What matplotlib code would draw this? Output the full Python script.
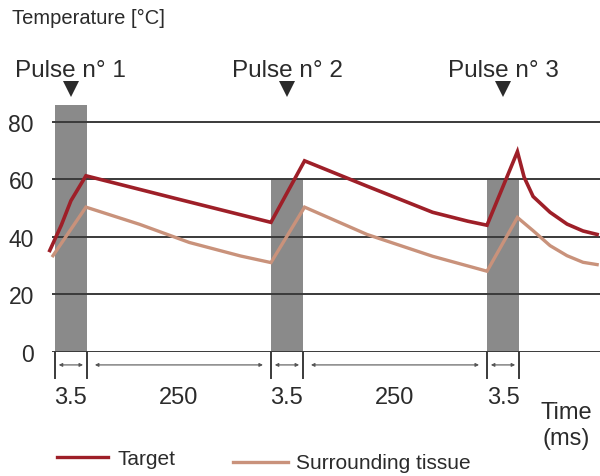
import matplotlib
matplotlib.use("Agg")
import matplotlib.pyplot as plt

plt.rcParams['font.family'] = ['Liberation Sans', 'DejaVu Sans']

# Schematic time axis: one unit = one laser pulse width (3.5 ms),
# the 250 ms pauses are drawn compressed to 5.75 units.
pulse_starts = [0.0, 6.75, 13.5]
pulse_width = 1.0
pulse_tops = [85.7, 60, 60]
pulse_labels = ["Pulse n° 1", "Pulse n° 2", "Pulse n° 3"]

segment_edges = [0.0, 1.0, 6.75, 7.75, 13.5, 14.5]
segment_labels = ["3.5", "250", "3.5", "250", "3.5"]

target_t = [-0.16, 0.2, 0.5, 0.97, 3.7, 6.75, 7.8, 9.75, 11.8, 12.9, 13.5,
            14.45, 14.66, 14.94, 15.47, 16.0, 16.5, 16.94]
target_temp = [35.2, 44.0, 52.5, 61.2, 53.5, 45.0, 66.4, 57.6, 48.5, 45.4, 44.0,
               69.6, 60.7, 54.0, 48.5, 44.4, 42.0, 40.8]

tissue_t = [-0.06, 0.97, 2.65, 4.2, 5.8, 6.75, 7.8, 9.75, 11.8, 13.5,
            14.45, 14.94, 15.47, 16.0, 16.5, 16.94]
tissue_temp = [33.4, 50.3, 44.3, 38.0, 33.3, 31.0, 50.3, 40.8, 33.2, 28.0,
               46.7, 42.1, 36.9, 33.4, 31.1, 30.3]

y_ticks = [0, 20, 40, 60, 80]

target_color = '#9e1f28'
tissue_color = '#c9927b'
text_color = '#2b2b2b'

fig = plt.figure(figsize=(6.0, 4.77), dpi=100)
ax = fig.add_axes([52 / 600, 124.3 / 477, 548 / 600, 247.2 / 477])
ax.set_xlim(-0.09, 17.03)
ax.set_ylim(0, 86)

# pulse windows
for start, top in zip(pulse_starts, pulse_tops):
    ax.bar(start, top, width=pulse_width, align='edge', color='#8a8a8a',
           zorder=1, clip_on=False)

# horizontal grid lines
for y in y_ticks:
    ax.axhline(y, color='#3a3a3a', lw=1.4, zorder=2)

ax.plot(target_t, target_temp, color=target_color, lw=2.6, zorder=4,
        solid_joinstyle='miter', clip_on=False)
ax.plot(tissue_t, tissue_temp, color=tissue_color, lw=2.4, zorder=3,
        solid_joinstyle='miter', clip_on=False)

for s in ax.spines.values():
    s.set_visible(False)
ax.set_xticks([])
ax.set_yticks(y_ticks)
ax.tick_params(axis='y', length=0, pad=13, labelsize=16.5, labelcolor=text_color)

# pulse markers and titles
for start, lab in zip(pulse_starts, pulse_labels):
    c = start + pulse_width / 2
    ax.plot(c, 91.3, marker='v', ms=11, color='#2b2b2b', clip_on=False,
            markeredgewidth=0)
    ax.text(c, 98.0, lab, ha='center', va='center', fontsize=17.5,
            color=text_color, clip_on=False)

# duration brackets below the axis
for x in segment_edges:
    ax.plot([x, x], [0, -9.2], color='#3a3a3a', lw=1.4, clip_on=False)
for a, b, lab in zip(segment_edges[:-1], segment_edges[1:], segment_labels):
    pad = 0.12 if lab == "3.5" else 0.25
    ax.annotate('', xy=(b - pad, -4.6), xytext=(a + pad, -4.6),
                arrowprops=dict(arrowstyle='<|-|>', color='#555555', lw=0.8,
                                mutation_scale=5, shrinkA=0, shrinkB=0),
                annotation_clip=False)
    ax.text((a + b) / 2, -15.6, lab, ha='center', va='center', fontsize=17,
            color=text_color)

fig.text(566 / 600, 1 - 426 / 477, "Time\n(ms)", ha='center', va='center',
         fontsize=17, color=text_color, linespacing=1.2)
fig.text(12 / 600, 1 - 18 / 477, "Temperature [°C]", ha='left', va='center',
         fontsize=14.5, color=text_color)

# legend
fig.add_artist(plt.Line2D([57 / 600, 108 / 600], [1 - 458 / 477] * 2,
                          color=target_color, lw=2.4))
fig.text(117 / 600, 1 - 460 / 477, "Target", ha='left', va='center',
         fontsize=15, color=text_color)
fig.add_artist(plt.Line2D([233 / 600, 288 / 600], [1 - 462.5 / 477] * 2,
                          color=tissue_color, lw=2.4))
fig.text(296 / 600, 1 - 464 / 477, "Surrounding tissue", ha='left', va='center',
         fontsize=15, color=text_color)

fig.savefig('out.png', dpi=100)
